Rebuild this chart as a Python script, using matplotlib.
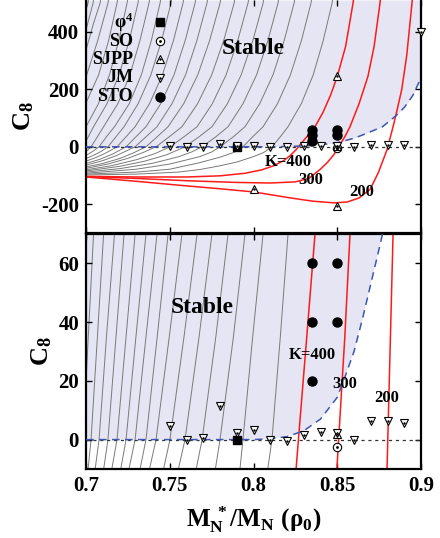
import matplotlib
matplotlib.use('Agg')
import matplotlib.pyplot as plt

plt.rcParams['font.family'] = ['Liberation Serif', 'DejaVu Serif']
plt.rcParams['font.weight'] = 'bold'
plt.rcParams['mathtext.fontset'] = 'custom'
plt.rcParams['mathtext.rm'] = 'Liberation Serif:bold'
plt.rcParams['mathtext.it'] = 'Liberation Serif:bold'
plt.rcParams['mathtext.bf'] = 'Liberation Serif:bold'

# ---------------- data ----------------
# stability boundary (blue dashed)
bound_x = [0.70, 0.80, 0.81, 0.82, 0.83, 0.84, 0.85, 0.855, 0.86, 0.865, 0.87, 0.875,
           0.877, 0.88, 0.885, 0.89, 0.895, 0.90]
bound_c8 = [0, 0, 0.3, 1, 3, 7, 14.4, 22, 30, 41, 53, 65, 70, 84, 108, 137, 178, 240]

# red curves (K = 400, 300, 200)
red_K = [400, 300, 200]
red_x = [
    [0.70, 0.73, 0.76, 0.78, 0.795, 0.805, 0.812, 0.818, 0.822, 0.8254, 0.8268, 0.8315,
     0.8367, 0.8415, 0.846, 0.85, 0.855, 0.8594, 0.862],
    [0.70, 0.73, 0.76, 0.79, 0.81, 0.825, 0.833, 0.8397, 0.844, 0.848, 0.8508, 0.8545,
     0.8576, 0.863, 0.8683, 0.872, 0.8755, 0.877],
    [0.70, 0.73, 0.76, 0.78, 0.80, 0.82, 0.835, 0.848, 0.856, 0.863, 0.8696, 0.8745,
     0.8797, 0.8833, 0.8857, 0.8885, 0.8915, 0.8946, 0.896],
]
red_c8 = [
    [-103, -105, -105, -101, -92, -80, -66, -48, -30, -10, 0, 33,
     70, 120, 180, 245, 350, 500, 600],
    [-104, -110, -118, -124, -126, -122, -110, -79, -55, -27, 0, 35,
     70, 150, 245, 350, 500, 600],
    [-105, -120, -136, -146, -157, -176, -189, -195, -192, -178, -148, -90,
     -10, 70, 128, 200, 320, 500, 600],
]

# gray curves (larger K), right to left
gray_x = [
    [0.70, 0.73, 0.755, 0.768, 0.78, 0.79, 0.80, 0.806, 0.8110, 0.8160, 0.8206, 0.8285, 0.8356, 0.8416, 0.8469, 0.8510],
    [0.70, 0.73, 0.75, 0.768, 0.78, 0.788, 0.7919, 0.7937, 0.7995, 0.8057, 0.8143, 0.8220, 0.8286, 0.8343, 0.8385],
    [0.70, 0.73, 0.75, 0.768, 0.775, 0.7800, 0.7880, 0.7949, 0.8037, 0.8116, 0.8183, 0.8242, 0.8285],
    [0.70, 0.72, 0.74, 0.755, 0.763, 0.7693, 0.7775, 0.7848, 0.7937, 0.8018, 0.8086, 0.8146, 0.8190],
    [0.70, 0.72, 0.735, 0.748, 0.7591, 0.7675, 0.7752, 0.7844, 0.7926, 0.7996, 0.8057, 0.8100],
    [0.70, 0.715, 0.73, 0.741, 0.7501, 0.7585, 0.7663, 0.7754, 0.7836, 0.7906, 0.7967, 0.8010],
    [0.70, 0.713, 0.725, 0.734, 0.7418, 0.7497, 0.7573, 0.7666, 0.7750, 0.7822, 0.7884, 0.7927],
    [0.70, 0.71, 0.72, 0.728, 0.7358, 0.7425, 0.7490, 0.7583, 0.7667, 0.7738, 0.7800, 0.7843],
    [0.70, 0.71, 0.718, 0.7293, 0.7358, 0.7424, 0.7513, 0.7594, 0.7662, 0.7722, 0.7765],
    [0.70, 0.708, 0.716, 0.7239, 0.7298, 0.7358, 0.7446, 0.7525, 0.7592, 0.7651, 0.7693],
    [0.70, 0.706, 0.712, 0.7185, 0.7239, 0.7293, 0.7379, 0.7456, 0.7522, 0.7579, 0.7620],
    [0.70, 0.705, 0.709, 0.7131, 0.7179, 0.7227, 0.7311, 0.7387, 0.7451, 0.7507, 0.7550],
    [0.70, 0.7045, 0.7078, 0.7122, 0.7170, 0.7258, 0.7330, 0.7390, 0.7442, 0.7485],
    [0.70, 0.7030, 0.7068, 0.7105, 0.7190, 0.7262, 0.7322, 0.7376, 0.7420],
    [0.70, 0.7045, 0.7125, 0.7197, 0.7258, 0.7310, 0.7350],
    [0.70, 0.7074, 0.7140, 0.7196, 0.7245, 0.7285],
    [0.70, 0.7075, 0.7135, 0.7185, 0.7225],
    [0.70, 0.7070, 0.7131, 0.7170],
    [0.70, 0.7045, 0.7084, 0.7124],
    [0.70, 0.7042, 0.7080],
    [0.70, 0.7012, 0.7050],
]
gray_c8 = [
    [-98, -95, -88, -79, -66, -53, -34, -20, 0, 35, 70, 150, 250, 370, 500, 650],
    [-95, -88, -78, -55, -36, -20, -10, 0, 35, 70, 150, 250, 370, 500, 650],
    [-92, -78, -60, -34, -18, 0, 35, 70, 150, 250, 370, 500, 650],
    [-88, -76, -57, -35, -18, 0, 35, 70, 150, 250, 370, 500, 650],
    [-84, -68, -50, -28, 0, 35, 70, 150, 250, 370, 500, 650],
    [-80, -66, -45, -24, 0, 35, 70, 150, 250, 370, 500, 650],
    [-75, -60, -40, -20, 0, 35, 70, 150, 250, 370, 500, 650],
    [-70, -58, -41, -22, 0, 35, 70, 150, 250, 370, 500, 650],
    [-64, -48, -31, 0, 35, 70, 150, 250, 370, 500, 650],
    [-58, -44, -25, 0, 35, 70, 150, 250, 370, 500, 650],
    [-50, -37, -21, 0, 35, 70, 150, 250, 370, 500, 650],
    [-41, -28, -16, 0, 35, 70, 150, 250, 370, 500, 650],
    [-30, -14, 0, 35, 70, 150, 250, 370, 500, 650],
    [-17, 0, 35, 70, 150, 250, 370, 500, 650],
    [20, 70, 150, 250, 370, 500, 650],
    [70, 150, 250, 370, 500, 650],
    [153, 250, 370, 500, 650],
    [243, 370, 500, 650],
    [337, 430, 500, 650],
    [407, 500, 650],
    [476, 500, 650],
]

# model points
phi4_x = [0.79]
phi4_c8 = [0.0]
so_x = [0.85]
so_c8 = [-2.5]
sjpp_x = [0.80, 0.85, 0.85, 0.85]
sjpp_c8 = [-148, 245, -205, 2.0]
jm_x = [0.75, 0.76, 0.77, 0.78, 0.79, 0.80, 0.81, 0.82, 0.83, 0.84, 0.85, 0.86, 0.87, 0.88, 0.89, 0.90]
jm_c8 = [4.5, 0.0, 0.4, 11.3, 2.4, 3.4, 0.0, -0.5, 1.7, 2.7, 2.3, 0.0, 6.3, 6.5, 5.5, 400]
sto_x = [0.835, 0.835, 0.835, 0.85, 0.85]
sto_c8 = [60, 40, 20, 60, 40]

legend_labels = [r'$\mathrm{φ}^{4}$', 'SO', 'SJPP', 'JM', 'STO']
x_ticks = [0.7, 0.75, 0.8, 0.85, 0.9]
x_ticklabels = ['0.7', '0.75', '0.8', '0.85', '0.9']
top_yticks = [-200, 0, 200, 400]
bot_yticks = [0, 20, 40, 60]

# ---------------- figure ----------------
fig = plt.figure(figsize=(4.40, 5.38), dpi=100)
ax1 = fig.add_axes([0.1955, 0.5669, 0.7614, 0.4331])
ax2 = fig.add_axes([0.1955, 0.1283, 0.7614, 0.4368])

fill_col = '#e5e5f3'
gray_col = '#7a7a7a'
red_col = '#ff1a1a'
blue_col = '#3f56b0'


def draw_panel(ax, ytop, ybot):
    ax.set_xlim(0.7, 0.9)
    ax.set_ylim(ybot, ytop)
    ax.fill_between(bound_x, bound_c8, ytop, color=fill_col, lw=0, zorder=0)
    for xs, ys in zip(gray_x, gray_c8):
        ax.plot(xs, ys, color=gray_col, lw=0.7, zorder=1)
    for xs, ys in zip(red_x, red_c8):
        ax.plot(xs, ys, color=red_col, lw=1.1, zorder=2)
    ax.axhline(0, color='#333333', lw=0.9, ls=(0, (2.5, 3)), zorder=2)
    ax.plot(bound_x, bound_c8, color=blue_col, lw=1.1, ls=(0, (5, 3.5)), zorder=3)
    ms = 6
    ax.plot(phi4_x, phi4_c8, 's', color='black', ms=6, zorder=5, clip_on=False)
    ax.plot(so_x, so_c8, 'o', mfc='white', mec='black', mew=0.8, ms=ms, zorder=5)
    ax.plot(so_x, so_c8, '.', color='black', ms=2, zorder=6)
    ax.plot(sjpp_x, sjpp_c8, '^', mfc='white', mec='black', mew=0.8, ms=ms, zorder=5)
    ax.plot(sjpp_x, sjpp_c8, '.', color='black', ms=1.5, zorder=6)
    ax.plot(jm_x, jm_c8, 'v', mfc='white', mec='black', mew=0.8, ms=ms, zorder=5, clip_on=False)
    ax.plot(jm_x, jm_c8, '.', color='black', ms=1.5, zorder=6, clip_on=False)
    ax.plot(sto_x, sto_c8, 'o', color='black', ms=6.5, zorder=5)
    ax.set_xticks(x_ticks)
    ax.tick_params(direction='in', length=4, width=1, top=True, right=True,
                   labelsize=15, pad=5)
    for sp in ax.spines.values():
        sp.set_linewidth(1.6)


draw_panel(ax1, 511, -300)
draw_panel(ax2, 70, -10)

ax1.set_yticks(top_yticks)
ax1.set_yticklabels([str(v) for v in top_yticks])
ax1.tick_params(labelbottom=False)
ax1.spines['top'].set_visible(False)
ax2.set_yticks(bot_yticks)
ax2.set_xticklabels(x_ticklabels)

ax1.set_ylabel(r'$\mathrm{C_8}$', fontsize=19, labelpad=4)
ax2.set_ylabel(r'$\mathrm{C_8}$', fontsize=19, labelpad=3)
ax2.set_xlabel(r'$\mathrm{M_N^{\ *}/M_N\ (ρ_0)}$', fontsize=18, labelpad=6)

# stable labels
ax1.text(0.7997, 341, 'Stable', fontsize=17, ha='center', va='center', zorder=7)
ax2.text(0.7693, 45, 'Stable', fontsize=17, ha='center', va='center', zorder=7)

# K labels
ax1.text(0.8206, -52, 'K=400', fontsize=12, ha='center', va='center', zorder=7)
ax1.text(0.8343, -114, str(red_K[1]), fontsize=12, ha='center', va='center', zorder=7)
ax1.text(0.8648, -159, str(red_K[2]), fontsize=12, ha='center', va='center', zorder=7)
ax2.text(0.835, 28.7, 'K=400', fontsize=12, ha='center', va='center', zorder=7)
ax2.text(0.8546, 19, str(red_K[1]), fontsize=12, ha='center', va='center', zorder=7)
ax2.text(0.8797, 14, str(red_K[2]), fontsize=12, ha='center', va='center', zorder=7)

# legend (manual)
rows = [0.905, 0.824, 0.745, 0.666, 0.585]
tx = 0.14
mx = 0.22
mk = [dict(marker='s', color='black', ms=6),
      dict(marker='o', mfc='white', mec='black', mew=0.8, ms=6),
      dict(marker='^', mfc='white', mec='black', mew=0.8, ms=6),
      dict(marker='v', mfc='white', mec='black', mew=0.8, ms=6),
      dict(marker='o', color='black', ms=6.5)]
for lab, ry, m in zip(legend_labels, rows, mk):
    ax1.text(tx, ry, lab, transform=ax1.transAxes, fontsize=13, ha='right', va='center', zorder=7)
    ax1.plot([mx], [ry], transform=ax1.transAxes, ls='none', zorder=7, **m)
for ry, s in zip(rows[1:4], [2, 1.5, 1.5]):
    ax1.plot([mx], [ry], '.', transform=ax1.transAxes, color='black', ms=s, zorder=8)

fig.savefig('out.png', dpi=100)
